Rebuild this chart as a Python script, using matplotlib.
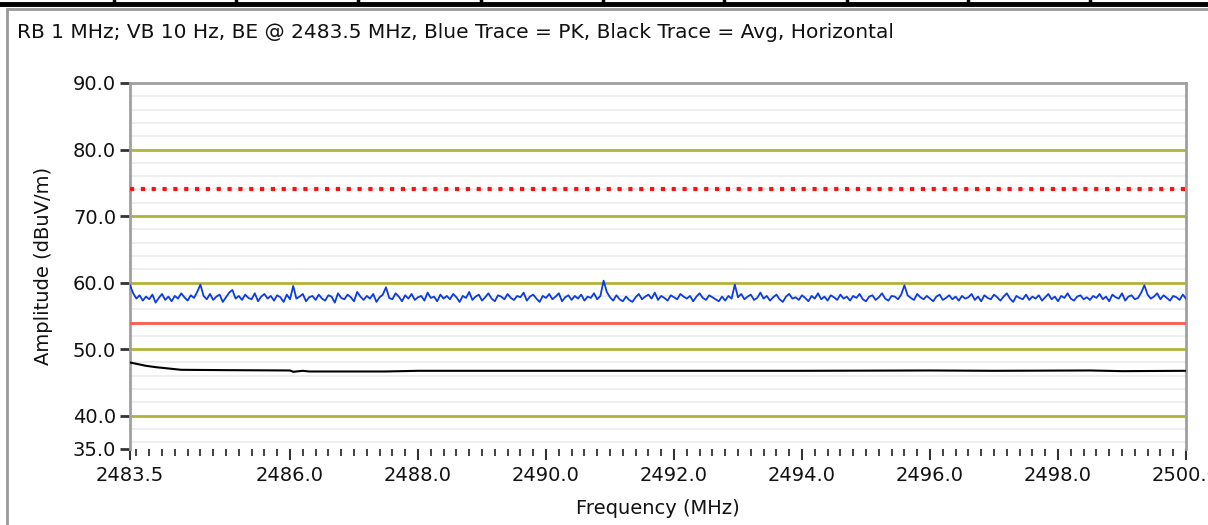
import numpy as np
import matplotlib
matplotlib.use("Agg")
import matplotlib.pyplot as plt
from matplotlib.patches import Rectangle
from matplotlib.lines import Line2D
from matplotlib.ticker import MultipleLocator, FixedLocator

# sweep range (MHz)
f_start = 2483.5
f_stop = 2500.0

# blue trace = peak detector (dBuV/m)
peak = [
    59.6, 58.4, 57.6, 58.1, 57.3, 57.9, 57.5, 58.2, 57.0, 57.7, 58.3, 57.4, 57.9, 57.2, 58.0, 57.6, 58.4, 57.8, 57.3, 58.1,
    57.7, 58.6, 59.7, 58.0, 57.5, 58.3, 57.4, 57.9, 58.2, 57.1, 57.8, 58.5, 58.9, 57.6, 58.0, 57.4, 58.2, 57.7, 57.5, 58.4,
    57.2, 57.9, 58.3, 57.6, 58.0, 57.3, 58.1, 57.8, 57.1, 58.2, 57.5, 59.5, 57.6, 57.9, 58.3, 57.2, 57.8, 58.0, 57.4, 58.2,
    57.6, 57.3, 58.1, 57.9, 57.0, 58.4, 57.7, 57.5, 58.2, 57.8, 57.2, 58.6, 57.9, 57.4, 58.0, 57.6, 58.3, 57.1, 57.8, 58.2,
    59.3, 57.7, 57.5, 58.4, 57.9, 57.2, 58.1, 57.6, 58.3, 57.4, 57.8, 58.0, 57.3, 58.5, 57.7, 57.9, 57.2, 58.2, 57.6, 58.0,
    57.5, 58.3, 57.8, 57.1, 58.0, 57.7, 58.6, 57.4, 57.9, 58.2, 57.3, 57.8, 58.4, 57.6, 57.2, 58.1, 57.9, 57.5, 58.3, 57.7,
    57.4, 58.0, 57.8, 58.5, 57.3, 57.9, 58.2, 57.6, 57.1, 58.0, 57.7, 58.3, 57.5, 57.9, 58.4, 57.2, 57.8, 58.1, 57.4, 58.0,
    57.6, 58.2, 57.3, 57.9, 57.7, 58.4, 57.5, 58.0, 60.3, 58.6, 57.8, 57.3, 58.1, 57.5, 57.2, 57.9, 57.4, 57.1, 57.8, 58.3,
    57.5, 57.9, 58.2, 57.6, 58.5, 57.4, 58.0, 57.7, 57.3, 58.1, 57.8, 57.5, 58.3, 57.9, 57.6, 58.0, 57.2, 57.9, 58.4, 57.7,
    57.4, 58.1, 57.8, 57.5, 57.2, 57.9, 57.3, 58.0, 57.6, 59.7, 57.8, 58.3, 57.5, 57.9, 58.2, 57.4, 57.7, 58.5, 57.6, 58.0,
    57.3, 57.8, 58.2, 57.5, 57.1, 57.9, 58.3, 57.6, 57.8, 57.4, 58.1, 57.7, 57.2, 58.0, 57.6, 58.4, 57.5, 57.9, 57.3, 58.1,
    57.8, 57.4, 58.2, 57.6, 57.9, 57.3, 58.0, 57.7, 58.3, 57.5, 57.2, 57.9, 58.1, 57.4, 57.8, 58.4, 57.6, 57.3, 58.0, 57.9,
    57.5, 58.2, 59.6, 58.1, 57.7, 57.4, 58.3, 57.8, 57.5, 58.0, 57.6, 57.2, 57.9, 58.2, 57.4, 57.7, 58.1, 57.5, 57.9, 57.3,
    58.0, 57.6, 57.8, 58.3, 57.4, 57.9, 57.2, 58.1, 57.7, 57.5, 58.2, 57.8, 57.3, 57.9, 58.4, 57.6, 57.1, 58.0, 57.7, 57.5,
    58.2, 57.4, 57.9, 57.6, 58.1, 57.3, 57.8, 58.3, 57.5, 57.9, 57.2, 58.0, 57.7, 58.4, 57.6, 57.3, 57.9, 58.1, 57.5, 57.8,
    57.4, 58.0, 57.7, 58.3, 57.5, 57.9, 57.2, 58.2, 57.8, 57.6, 58.4, 57.3, 57.9, 58.1, 57.5, 57.7, 58.5, 59.6, 58.2, 57.6,
    57.9, 58.4, 57.5, 58.1, 57.7, 57.3, 58.0, 57.8, 57.4, 58.2, 57.6,
]
peak_freq = np.linspace(f_start, f_stop, len(peak))

# black trace = average detector
avg_freq = [2483.5, 2483.6, 2483.75, 2483.9, 2484.1, 2484.3, 2485.0, 2486.0, 2486.05,
            2486.2, 2486.3, 2487.5, 2488.0, 2490.0, 2492.0, 2494.0, 2496.0, 2497.0,
            2498.5, 2499.0, 2500.0]
avg = [48.0, 47.8, 47.5, 47.3, 47.1, 46.9, 46.85, 46.8, 46.6,
       46.75, 46.65, 46.65, 46.75, 46.75, 46.75, 46.75, 46.8, 46.75,
       46.8, 46.7, 46.75]

peak_limit = 74.0
avg_limit = 54.0

title = "RB 1 MHz; VB 10 Hz, BE @ 2483.5 MHz, Blue Trace = PK, Black Trace = Avg, Horizontal"
x_ticks = [2483.5, 2486.0, 2488.0, 2490.0, 2492.0, 2494.0, 2496.0, 2498.0, 2500.0]
y_ticks = [35.0, 40.0, 50.0, 60.0, 70.0, 80.0, 90.0]

W, H = 1208, 525
fig = plt.figure(figsize=(W / 100, H / 100), dpi=100)
fig.patch.set_facecolor("white")
plt.rcParams['font.family'] = ['DejaVu Sans']

# table border on top and the panel frame
fig.add_artist(Line2D([0, 1], [1 - 4 / H, 1 - 4 / H], color="black", lw=3.5))
for xd in [114, 236, 358, 481, 603, 724, 847, 968, 1090]:
    fig.add_artist(Line2D([xd / W, xd / W], [1 - 4 / H, 1], color="black", lw=2.5))
fig.add_artist(Rectangle((7 / W, -0.1), 1.2, 1 - 9 / H + 0.1, fill=False,
                         edgecolor="#9a9a9a", lw=2))

fig.text(17 / W, 1 - 32 / H, title, fontsize=14.5, va="center", ha="left", color="#111111")

ax = fig.add_axes([130 / W, 1 - 449 / H, (1186 - 130) / W, (449 - 83) / H])
ax.set_xlim(f_start, f_stop)
ax.set_ylim(35, 90)

# minor grid every 2 dB, olive major lines
for yv in np.arange(36, 90, 2):
    ax.axhline(yv, color="#ececec", lw=1.2, zorder=1)
for yv in [40, 50, 60, 70, 80]:
    ax.axhline(yv, color="#b3b33a", lw=2, zorder=2)

ax.axhline(peak_limit, color="#ff1010", lw=3, ls=(0, (1, 1.6)), zorder=3)
ax.axhline(avg_limit, color="#ff5a4a", lw=2, zorder=3)

ax.plot(peak_freq, peak, color="#0c3ce0", lw=1.3, zorder=4)
ax.plot(avg_freq, avg, color="black", lw=1.5, zorder=4)

for side in ["left", "top", "right"]:
    ax.spines[side].set_color("#a0a0a0")
    ax.spines[side].set_linewidth(2)
ax.spines["bottom"].set_visible(False)

ax.yaxis.set_major_locator(FixedLocator(y_ticks))
ax.set_yticklabels([f"{v:.1f}" for v in y_ticks])
ax.xaxis.set_major_locator(FixedLocator(x_ticks))
ax.set_xticklabels([f"{v:.1f}" for v in x_ticks])
ax.xaxis.set_minor_locator(MultipleLocator(0.2))

ax.tick_params(axis="y", direction="out", length=7, width=2, color="#333333",
               labelsize=14, pad=3, labelcolor="#111111")
ax.tick_params(axis="x", which="major", direction="out", length=8, width=1.5,
               color="#333333", labelsize=14, pad=4, labelcolor="#111111")
ax.tick_params(axis="x", which="minor", direction="out", length=5, width=1.3,
               color="#333333")

ax.set_xlabel("Frequency (MHz)", fontsize=14, labelpad=10, color="#111111")
ax.set_ylabel("Amplitude (dBuV/m)", fontsize=14, labelpad=14, color="#111111")

fig.savefig("out.png", dpi=100, facecolor="white")
